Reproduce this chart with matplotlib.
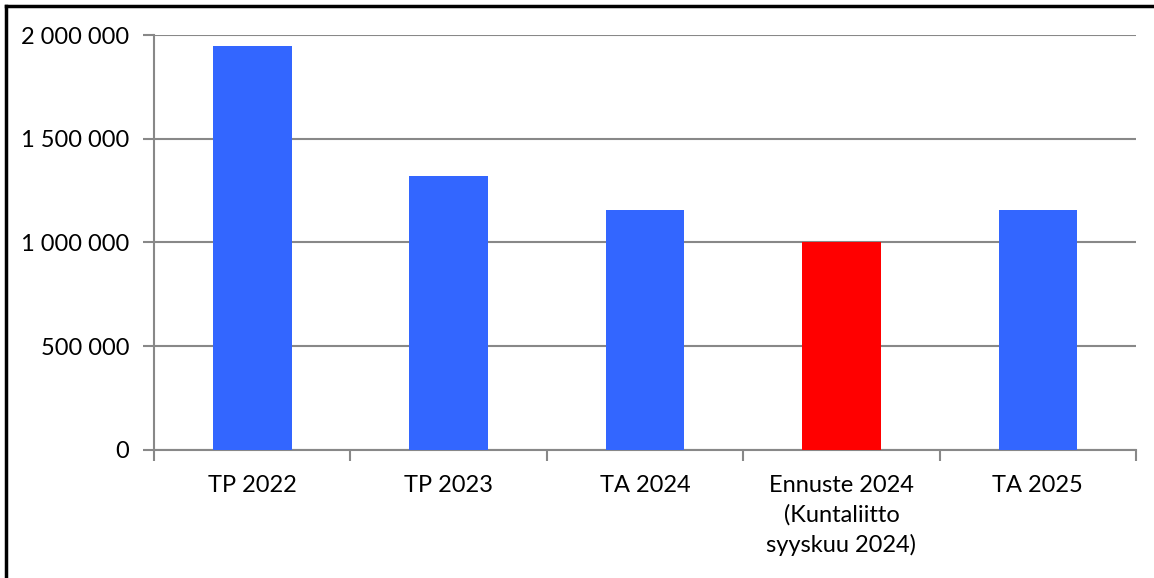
import matplotlib
matplotlib.use("Agg")
import matplotlib.pyplot as plt
from matplotlib.lines import Line2D
from matplotlib.ticker import FuncFormatter

categories = ["TP 2022", "TP 2023", "TA 2024", "Ennuste 2024\n(Kuntaliitto\nsyyskuu 2024)", "TA 2025"]
values = [1947000, 1320000, 1157000, 1002000, 1157000]
colors = ["#3366FF", "#3366FF", "#3366FF", "#FF0000", "#3366FF"]

plt.rcParams['font.family'] = ['Lato', 'DejaVu Sans']

fig = plt.figure(figsize=(11.54, 5.78), dpi=100)
ax = fig.add_axes([0.1335, 0.2215, 0.8509, 0.7179])

x = list(range(len(categories)))
ax.bar(x, values, width=0.4, color=colors, zorder=3)

ax.set_xlim(-0.5, len(categories) - 0.5)
ax.set_ylim(0, 2000000)
ax.set_yticks([0, 500000, 1000000, 1500000, 2000000])
ax.yaxis.set_major_formatter(FuncFormatter(lambda v, p: "{:,.0f}".format(v).replace(",", " ")))
ax.grid(axis='y', color='#888888', linewidth=1.5, zorder=0)

# category labels centred, tick marks at boundaries
ax.set_xticks(x)
ax.set_xticklabels(categories, fontsize=17, linespacing=1.45)
ax.tick_params(axis='x', length=0, pad=18)
ax.set_xticks([i - 0.5 for i in range(len(categories) + 1)], minor=True)
ax.tick_params(axis='x', which='minor', length=8, color='#888888', width=1.5, direction='out')
ax.tick_params(axis='y', labelsize=17, length=8, color='#888888', width=1.5, pad=10)

for s in ['top', 'right']:
    ax.spines[s].set_visible(False)
for s in ['left', 'bottom']:
    ax.spines[s].set_color('#888888')
    ax.spines[s].set_linewidth(1.5)

# frame around the chart (left and top edges)
fig.add_artist(Line2D([6/1154, 6/1154], [0, 1 - 6/578], color='black', linewidth=2.5))
fig.add_artist(Line2D([6/1154, 1], [1 - 6/578, 1 - 6/578], color='black', linewidth=2.5))

fig.savefig("out.png", dpi=100)
